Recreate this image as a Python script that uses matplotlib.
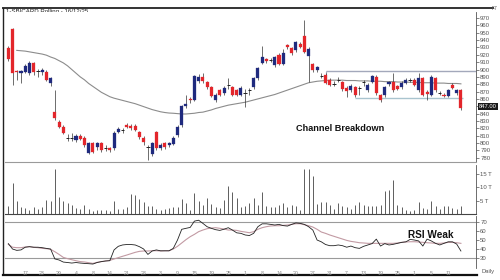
import matplotlib
matplotlib.use("Agg")
import matplotlib.pyplot as plt
from matplotlib.lines import Line2D
import matplotlib.transforms as mtransforms

plt.rcParams['font.family'] = ['Liberation Sans', 'DejaVu Sans']

# ---------------- data ----------------
opens = [929, 955, 898, 895, 897, 895, 909, 898, 897, 897, 881, 842, 829, 822, 808, 806, 804, 809, 807, 787,
         800, 794, 800, 793, 793, 793, 815, 817, 824, 823, 823, 815, 807, 794, 785, 815, 793, 800, 797, 799,
         811, 824, 851, 860, 859, 884, 890, 883, 876, 858, 872, 868, 878, 876, 872, 866, 869, 871, 876, 888,
         909, 914, 912, 906, 920, 908, 933, 929, 926, 935, 945, 919, 907, 899, 892, 893, 886, 881, 885, 883,
         875, 872, 876, 874, 882, 872, 883, 890, 865, 865, 880, 883, 877, 876, 882, 886, 886, 872, 888, 869,
         866, 888, 869, 866, 864, 879, 868, 872]
highs = [932, 957, 900, 899, 907, 911, 910, 901, 902, 899, 890, 872, 831, 824, 812, 813, 812, 812, 809, 802,
         802, 801, 802, 797, 795, 816, 822, 820, 827, 826, 826, 817, 809, 797, 802, 817, 800, 802, 802, 809,
         824, 852, 866, 863, 893, 894, 895, 885, 878, 868, 874, 877, 889, 878, 874, 877, 874, 875, 890, 904,
         932, 916, 916, 919, 922, 928, 935, 931, 939, 938, 967, 930, 909, 905, 895, 895, 888, 884, 890, 885,
         877, 880, 878, 878, 886, 881, 893, 892, 867, 878, 885, 895, 879, 884, 888, 888, 888, 895, 890, 872,
         892, 890, 871, 868, 874, 881, 874, 874]
lows = [912, 879, 886, 882, 895, 893, 892, 890, 892, 884, 878, 832, 820, 812, 803, 803, 802, 804, 795, 785,
        786, 791, 788, 789, 788, 791, 813, 813, 820, 818, 816, 806, 798, 777, 783, 791, 791, 792, 795, 797,
        808, 822, 848, 855, 857, 882, 882, 874, 862, 856, 864, 866, 874, 864, 864, 864, 849, 866, 874, 886,
        907, 909, 910, 904, 906, 906, 928, 920, 924, 929, 922, 883, 897, 897, 888, 880, 877, 877, 883, 871,
        862, 870, 863, 866, 878, 870, 881, 866, 856, 863, 878, 870, 872, 874, 880, 883, 877, 870, 864, 858,
        864, 870, 865, 862, 862, 873, 866, 845]
closes = [914, 895, 896, 898, 905, 909, 896, 897, 899, 886, 888, 834, 822, 814, 807, 807, 810, 806, 797, 800,
          788, 800, 790, 794, 790, 814, 819, 818, 822, 820, 818, 808, 801, 795, 800, 793, 798, 794, 800, 807,
          822, 850, 853, 858, 891, 890, 884, 876, 864, 866, 866, 875, 879, 866, 866, 875, 868, 872, 888, 902,
          917, 912, 913, 917, 908, 922, 930, 922, 937, 931, 924, 928, 899, 903, 891, 882, 879, 880, 886, 873,
          871, 878, 865, 875, 883, 879, 891, 868, 858, 876, 883, 872, 874, 882, 886, 885, 879, 888, 866, 867,
          890, 872, 868, 864, 872, 875, 872, 847]
moving_avg = [None, None, 926, 925.5, 925, 924, 923, 922, 921, 919.5, 917, 915, 912, 909, 905, 900, 895, 890,
              886, 881, 877, 873, 869, 866, 863, 861, 859.5, 858, 856.5, 855, 853.5, 851.5, 849.5, 847.5,
              845.5, 844, 842.5, 841.5, 840.8, 840.5, 840, 839.5, 839.5, 840, 840.5, 841.5, 842, 843.5, 845,
              847, 848.5, 850, 851.5, 852.5, 853.5, 854.5, 855.5, 857, 858.5, 860, 861.5, 863, 864.5, 866,
              868, 870, 872, 874, 876, 878, 880, 882, 883, 884, 884.5, 885, 885.5, 885.5, 885.5, 885.5, 885,
              885, 885, 884.5, 884.5, 884.5, 884, 884, 884, 883.5, 883.5, 883.5, 883, 883, 883, 882.5, 882.5,
              882.5, 882, 882, 882, 881.5, 881.5, 881.5, 881, 881, 881, 880.5]
volume = [2.9, 11.6, 4.75, 2.5, 2.25, 1.6, 2.6, 1.9, 2.5, 5.4, 5, 17, 6.4, 5, 4.1, 3.25, 2.25, 1.9, 3.5, 1.9,
          1.25, 1.4, 1.6, 1.6, 1.25, 4.75, 1.9, 1.9, 2.5, 7.6, 7, 5.6, 4.4, 2.9, 2.9, 1.9, 1.6, 2, 2.25, 2.5,
          2.5, 5.5, 4.1, 1.6, 7.75, 4.75, 3.25, 6, 3.75, 2.5, 2.25, 5.25, 10.6, 8.25, 6, 2.6, 3.1, 4.3,
          6, 3.25, 8.25, 2.9, 2.6, 2.6, 3.25, 4.1, 2.6, 3.25, 2.9, 1.5, 17, 17, 14.4, 3.75, 4.5, 4.4, 3.5,
          1.9, 4.1, 2.9, 2.6, 1.9, 3.25, 4.5, 3.25, 2.9, 2.9, 2.9, 3.25, 8.5, 9.1, 12.9, 3.5, 2.5, 1.6, 1.25,
          1.6, 4.5, 2.25, 1.9, 5, 2.9, 1.9, 2.9, 2.9, 2.25, 1.9, 2.9]
rsi = [46, 40, 38.5, 39, 42, 42.6, 42, 42, 41.5, 40.7, 40, 29, 27.8, 25.5, 25, 24.4, 25, 24.4, 24, 23.7,
       23.3, 25, 26, 26.7, 27, 39, 43, 44.5, 45, 45, 44.5, 42.6, 40, 34, 37.8, 39, 38, 38, 38, 40.7,
       50, 61.9, 63, 64, 71, 72, 68.5, 64.8, 63, 61.5, 60.7, 62, 63.7, 61, 58, 57.4, 55.6, 55, 57.4, 64.8,
       68, 68, 67.4, 66.7, 67.4, 66, 65.5, 67.4, 69, 68.5, 67.4, 64.8, 61, 50, 48, 45, 43.7, 43.7, 44.5, 43.7,
       42, 43.3, 41.5, 40.7, 43, 44.5, 46, 51, 43.3, 46, 44.5, 45.2, 46.3, 47.4, 48, 50.7, 50, 49, 43.3, 51,
       49, 46.3, 44.5, 46.3, 48, 48, 45.5, 37.8]
rsi_avg = [45.2, 42, 41.5, 41.5, 42.2, 42.6, 41.9, 41.5, 40.7, 40.4, 39.6, 37, 34, 30.7, 29.3, 28.1, 27, 26,
           25.6, 24.8, 24, 25.2, 26, 26.7, 27.4, 28.9, 30.4, 31.9, 33.3, 34.8, 36.3, 37.4, 37.8, 37.8, 38.1,
           38.1, 37.8, 38.1, 38.1, 40, 43, 46.7, 50.4, 53.7, 56.3, 59.3, 61.1, 62.6, 63.3, 63.7, 63, 62.2, 61.1,
           61.1, 60.7, 59.6, 58.9, 58.1, 59.3, 61.9, 63.7, 64.8, 65.6, 65.9, 65.9, 66.3, 66.7, 67.4, 68.1, 68.1,
           67, 65.9, 64.4, 61.9, 58.9, 57.4, 55.6, 54.1, 52.6, 51.1, 49.6, 48.5, 47.8, 47, 46.7, 46.3, 46.3,
           46.3, 46.3, 46.3, 46.3, 46.3, 46.7, 47.4, 47.8, 48.1, 48.1, 47.8, 47.4, 47, 46.7, 46.3, 46.3,
           46.7, 47.4, 47.4, 47, 46.3]
date_ticks = [4, 8, 12, 16, 20, 24, 28, 32, 36, 40, 44, 48, 52, 56, 60, 64, 68, 72, 76, 80, 84, 88, 92, 96, 100, 104]
date_labels = ['17', '23', '29', '4', '8', '14', '21', '28', '3', '9', '15', '19', '25', '1', '8', '14',
               '20', '27', '31', '7', '13', '19', '25', '1', '5', '11']
price_ticks = list(range(780, 971, 10))
vol_ticks = [5, 10, 15]
vol_labels = ['5 T', '10 T', '15 T']
rsi_ticks = [30, 40, 50, 60, 70]
channel_top = 898
channel_bottom = 861
channel_top_start, channel_bottom_start = 75, 82
title = '1-SBICARD.Rolling - 16/12/25'

n = len(closes)
lens = [len(a) for a in (opens, highs, lows, moving_avg, volume, rsi, rsi_avg)]
assert all(l == n for l in lens), lens

# ---------------- layout ----------------
W, H = 500, 280
fig = plt.figure(figsize=(5, 2.8), dpi=100)
fig.patch.set_facecolor('white')

def rect(x0, y0, x1, y1):
    return [x0 / W, 1 - y1 / H, (x1 - x0) / W, (y1 - y0) / H]

x0_pix, step = 8.3, 4.23
xl = ((5 - x0_pix) / step, (476 - x0_pix) / step)

RED = '#e3262b'
BLUE = '#1f2a7e'
GRID = '#9a9a9a'
FS = 4.3

def style_axis(ax):
    for s in ('top', 'left'):
        ax.spines[s].set_visible(False)
    ax.spines['right'].set_color('#555555')
    ax.spines['right'].set_linewidth(0.6)
    ax.yaxis.tick_right()
    ax.tick_params(axis='y', length=2, width=0.5, pad=1, labelsize=FS, colors='#555555')
    ax.set_xlim(*xl)

# price panel
ax = fig.add_axes(rect(5, 12, 476, 162))
style_axis(ax)
ax.spines['bottom'].set_color(GRID)
ax.spines['bottom'].set_linewidth(0.8)
ax.set_ylim(774.2, 978.2)
ax.set_yticks(price_ticks)
# the last-price box covers the tick label nearest the last close
covered = min(price_ticks, key=lambda t: abs(t - closes[-1]))
ax.set_yticklabels(['' if t == covered else str(t) for t in price_ticks])
ax.set_xticks([])

idx = list(range(n))
for i in idx:
    o, h, l, c = opens[i], highs[i], lows[i], closes[i]
    col = BLUE if c > o else RED
    ax.vlines(i, l, h, color='#333333', lw=0.5, zorder=2)
    if abs(c - o) < 1.5:
        ax.hlines((o + c) / 2, i - 0.4, i + 0.4, color='#222222', lw=0.7, zorder=3)
    else:
        ax.bar(i, abs(c - o), bottom=min(o, c), width=0.72, color=col, edgecolor=col, lw=0.2, zorder=3)

ma_x = [i for i in idx if moving_avg[i] is not None]
ma_y = [moving_avg[i] for i in ma_x]
ax.plot(ma_x, ma_y, color='#8c8c8c', lw=0.8, zorder=1)
ax.hlines(channel_top, channel_top_start, xl[1], color='#a3a8bb', lw=1.0, zorder=1)
ax.hlines(channel_bottom, channel_bottom_start, n - 0.5, color='#a9c4cf', lw=1.0, zorder=1)
ax.vlines(channel_top_start, moving_avg[channel_top_start], channel_top, color='#a3a8bb', lw=0.8, zorder=1)

ax.text(78.4, 820, 'Channel Breakdown', fontsize=6.6, fontweight='bold', ha='center', va='center',
        color='#111111')
trans = mtransforms.blended_transform_factory(ax.transAxes, ax.transData)
ax.text(1.006, closes[-1] + 3, f'{closes[-1]:.2f}', transform=trans, fontsize=4.2, color='white',
        va='center', ha='left', bbox=dict(boxstyle='square,pad=0.15', fc='#1a1a1a', ec='none'))

# volume panel
axv = fig.add_axes(rect(5, 165, 476, 214))
style_axis(axv)
axv.spines['bottom'].set_color('#444444')
axv.spines['bottom'].set_linewidth(0.8)
axv.set_ylim(0, 18.4)
axv.vlines(idx, 0, volume, color='#444444', lw=0.6)
axv.set_yticks(vol_ticks)
axv.set_yticklabels(vol_labels)
axv.set_xticks([])

# RSI panel
axr = fig.add_axes(rect(5, 216, 476, 268))
style_axis(axr)
axr.spines['bottom'].set_visible(False)
axr.set_ylim(18.9, 76.7)
axr.axhline(70, color=GRID, lw=0.8)
axr.axhline(30, color=GRID, lw=0.8)
axr.plot(idx, rsi_avg, color='#c29aa3', lw=0.8)
axr.plot(idx, rsi, color='#222222', lw=0.6)
axr.set_yticks(rsi_ticks)
axr.set_xticks(date_ticks)
axr.set_xticklabels(date_labels)
axr.tick_params(axis='x', length=0, pad=2, labelsize=3.8, colors='#888888')
axr.text(99.9, 55.5, 'RSI Weak', fontsize=7.2, fontweight='bold', ha='center', va='center', color='#111111')

# frame overlay
ov = fig.add_axes([0, 0, 1, 1], zorder=-1)
ov.set_xlim(0, W)
ov.set_ylim(H, 0)
ov.axis('off')
ov.add_line(Line2D([3, 493], [8, 8], color='#333333', lw=1.4))
ov.add_line(Line2D([3, 3], [8, 274], color='#222222', lw=1.0))
ov.add_line(Line2D([3, 477], [275, 275], color='#111111', lw=1.6))
ov.add_line(Line2D([5, 470], [263, 263], color='#d9b9c1', lw=1.0))
ov.add_line(Line2D([472, 475], [77, 77], color='#777777', lw=0.6))
ov.add_line(Line2D([472, 475], [106, 106], color='#777777', lw=0.6))
ov.text(6, 9.5, title, fontsize=4.4, color='#222222', va='top', ha='left')
ov.text(497, 9, 'F7', fontsize=3.6, color='#555555', va='center', ha='right')
ov.text(481, 271, 'Daily', fontsize=4.2, color='#555555', va='center', ha='left')

fig.savefig('out.png', dpi=100, facecolor='white')
